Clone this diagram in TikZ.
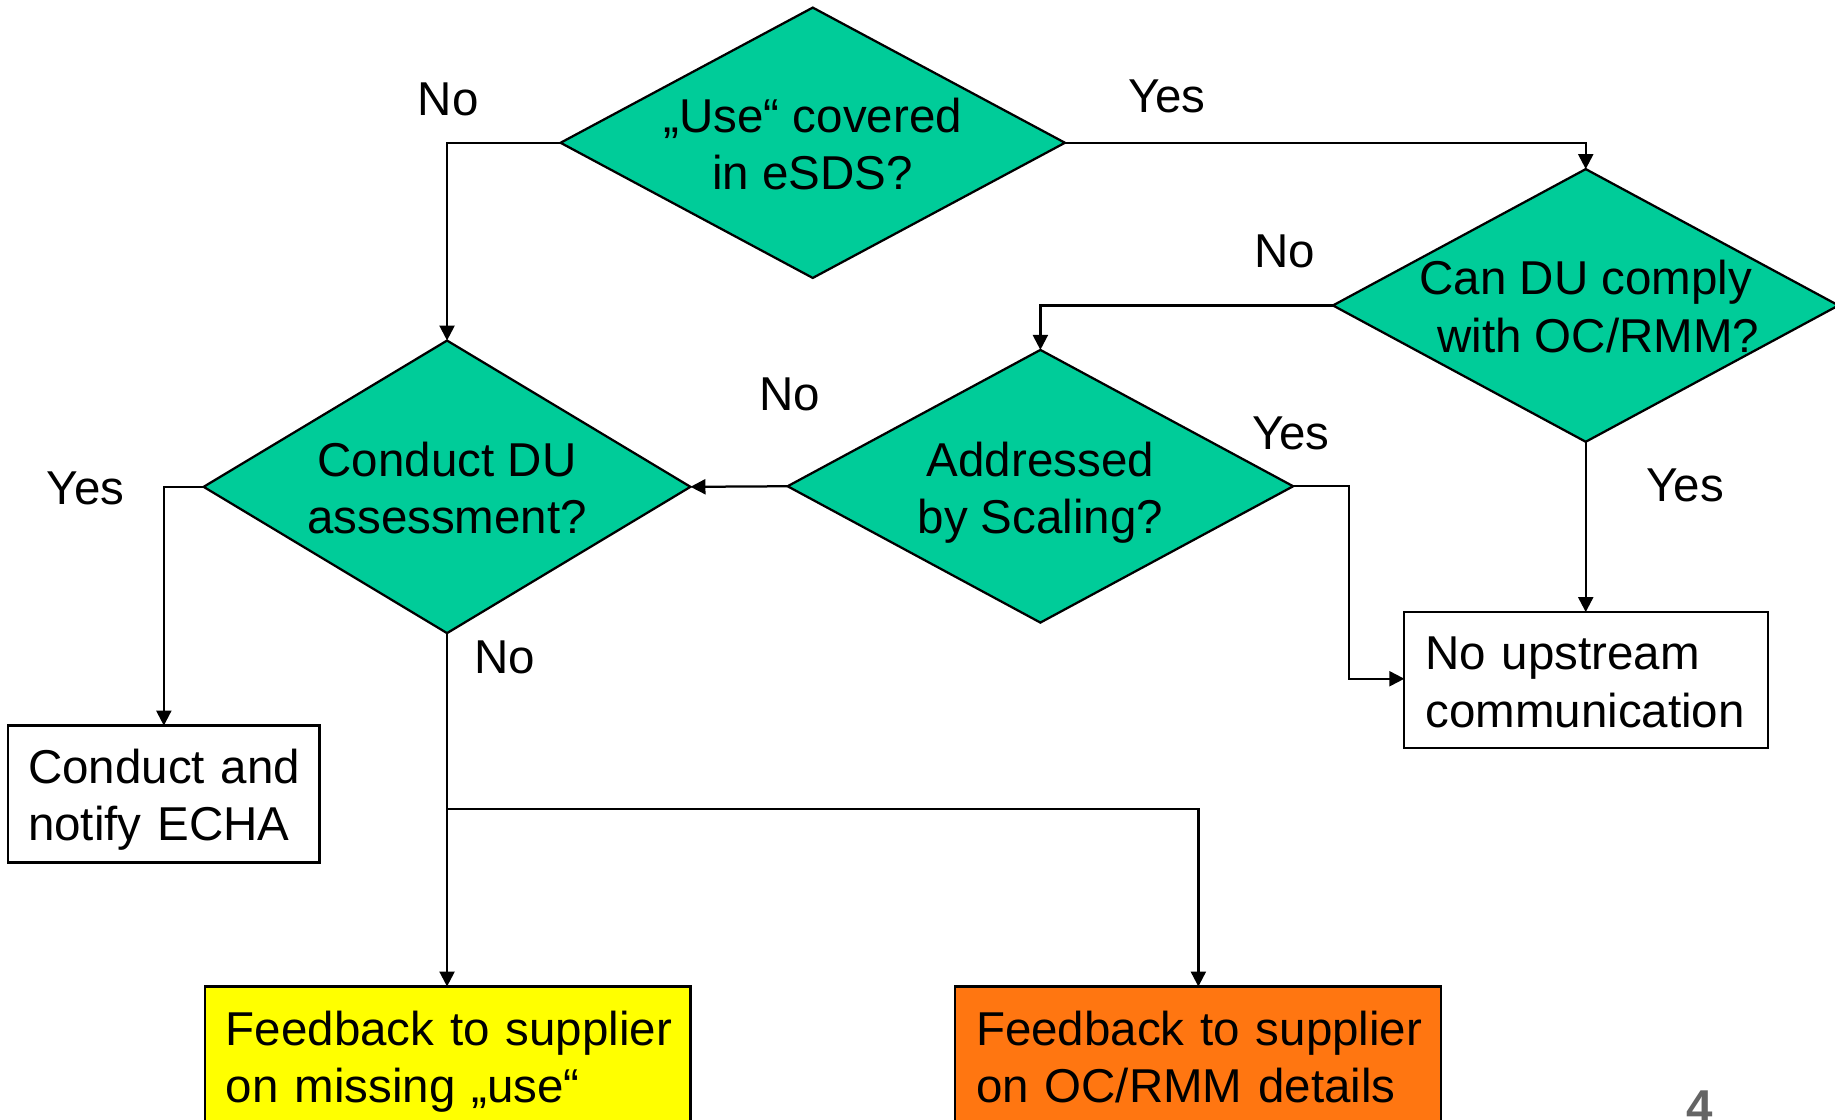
\documentclass[tikz,border=0pt]{standalone}
\usepackage{fontspec}
\setmainfont{Liberation Sans}
\usetikzlibrary{shapes.geometric,arrows.meta}
\definecolor{teal1}{RGB}{0,204,153}
\definecolor{orange1}{RGB}{255,118,17}
\definecolor{yellow1}{RGB}{255,255,0}
\definecolor{gray4}{RGB}{100,100,100}
\def\U{0.4681pt}
\tikzset{
  dec/.style={diamond, draw=black, line width=0.9pt, fill=teal1, inner sep=0pt, outer sep=0pt},
  dectext/.style={align=center, font=\fontsize{19}{22.9}\selectfont},
  boxnode/.style={rectangle, draw=black, line width=0.9pt, inner sep=0pt, outer sep=0pt},
  boxtext/.style={inner sep=0pt, align=left, font=\fontsize{19}{22.9}\selectfont},
  lbl/.style={font=\fontsize{19}{22.9}\selectfont, inner sep=0pt},
  conn/.style={line width=0.9pt, -{Triangle[length=6pt,width=6pt]}},
  plain/.style={line width=0.9pt}
}
\begin{document}
\begin{tikzpicture}[x=0.4681pt,y=-0.4681pt]
\useasboundingbox (0,0) rectangle (1568,957);
\clip (0,0) rectangle (1568,957);
% decisions
\node[dec, minimum width=431*\U, minimum height=231*\U] (d1) at (694.5,122) {};
\node[dectext] (t1) at (694.5,123) {„Use“ covered\\in eSDS?};
\node[dec, minimum width=432*\U, minimum height=233*\U] (d2) at (1355,261) {};
\node[dectext] (t2) at (1355,262) {Can DU comply\\\hspace*{10pt}with OC/RMM?};
\node[dec, minimum width=432*\U, minimum height=233*\U] (d3) at (889,415.5) {};
\node[dectext] (t3) at (889,421) {Addressed\\by Scaling?};
\node[dec, minimum width=416*\U, minimum height=250*\U] (d4) at (382,416) {};
\node[dectext] (t4) at (382,417) {Conduct DU\\assessment?};
% boxes
\node[boxnode, fill=white, minimum width=266*\U, minimum height=117*\U] (b1) at (140,678.5) {};
\node[boxtext, text width=232*\U] (bt1) at (140,683.5) {\mbox{Conduct and}\\\mbox{notify ECHA}};
\node[boxnode, fill=white, minimum width=311*\U, minimum height=116*\U] (b2) at (1355.5,581) {};
\node[boxtext, text width=275*\U] (bt2) at (1355.5,583) {\mbox{No upstream}\\\mbox{communication}};
\node[boxnode, fill=yellow1, minimum width=415*\U, minimum height=120*\U] (b3) at (382.5,903) {};
\node[boxtext, text width=379*\U] (bt3) at (382.5,907) {\mbox{Feedback to supplier}\\\mbox{on missing „use“}};
\node[boxnode, fill=orange1, minimum width=415*\U, minimum height=120*\U] (b4) at (1023.5,903) {};
\node[boxtext, text width=379*\U] (bt4) at (1023.5,903) {\mbox{Feedback to supplier}\\\mbox{on OC/RMM details}};
% connectors
\coordinate (c1) at (382,122);
\coordinate (c2) at (1355,122);
\coordinate (c3) at (889,261);
\coordinate (c4) at (1153,415.5);
\coordinate (c5) at (1153,580);
\coordinate (c6) at (140,416);
\coordinate (c7) at (382,691);
\coordinate (c8) at (1024,691);
\draw[conn] (d1.west) -- (c1) -- (d4.north);
\draw[conn] (d1.east) -- (c2) -- (d2.north);
\draw[conn] (d2.west) -- (c3) -- (d3.north);
\draw[conn] (d3.west) -- (d4.east);
\draw[conn] (d3.east) -- (c4) -- (c5) -- (b2.west |- c5);
\draw[conn] (d2.south) -- (d2.south |- b2.north);
\draw[conn] (d4.west) -- (c6) -- (c6 |- b1.north);
\draw[plain] (d4.south) -- (c7);
\draw[conn] (c7) -- (c7 |- b3.north);
\draw[conn] (c7) -- (c8) -- (c8 |- b4.north);
% labels
\node[lbl] (l1) at (383,85) {No};
\node[lbl] (l2) at (997,82) {Yes};
\node[lbl] (l3) at (1098,215) {No};
\node[lbl] (l4) at (675,337) {No};
\node[lbl] (l5) at (1103,370) {Yes};
\node[lbl] (l6) at (1440,415) {Yes};
\node[lbl] (l7) at (73,417) {Yes};
\node[lbl] (l8) at (431,562) {No};
\node[font=\fontsize{19}{22.9}\selectfont\bfseries, text=gray4, inner sep=0pt, anchor=north] (pg) at (1452,932) {4};
\end{tikzpicture}
\end{document}
